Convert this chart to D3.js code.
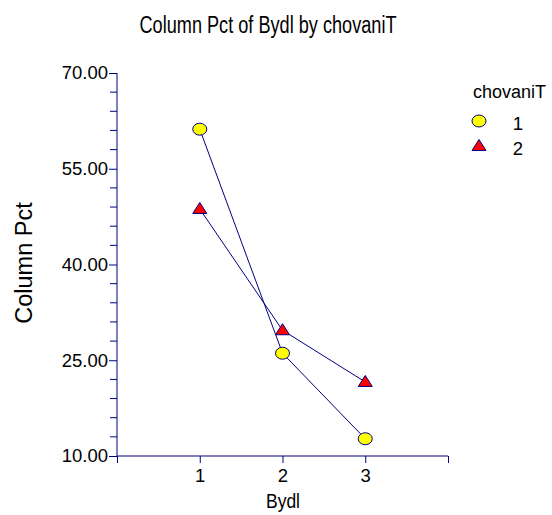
<!DOCTYPE html>
<html><head><meta charset="utf-8">
<script src="https://cdn.jsdelivr.net/npm/d3@7"></script>
<style>body{margin:0;background:#fff}svg{display:block}text{font-family:"Liberation Sans",Arial,sans-serif;fill:#000}</style>
</head><body><svg id="c" width="552" height="515"></svg>
<script>
const categories = [1, 2, 3];
const series1 = [61.2, 26.1, 12.7];
const series2 = [48.7, 29.7, 21.6];
const seriesNames = ["1", "2"];
const yTicks = [10, 25, 40, 55, 70];
const title = "Column Pct of Bydl by chovaniT";
const xTitle = "Bydl", yTitle = "Column Pct", legendTitle = "chovaniT";

const svg = d3.select("#c");
const navy = "#000080";
const x = d3.scaleLinear().domain([0, 4]).range([117, 448]);
const y = d3.scaleLinear().domain([10, 70]).range([456, 73]);

// title
svg.append("text").attr("x", 268).attr("y", 33).attr("text-anchor", "middle")
  .attr("font-size", 23).attr("textLength", 257).attr("lengthAdjust", "spacingAndGlyphs").text(title);

// y axis
const ya = svg.append("g").attr("transform", "translate(117,0)")
  .call(d3.axisLeft(y).tickValues(yTicks).tickFormat(d3.format(".2f")).tickSize(8).tickPadding(1));
const minor = d3.range(10, 70.001, 3).filter(v => !yTicks.includes(v));
ya.selectAll(".minor").data(minor).enter().append("line").attr("class", "minor")
  .attr("x1", -7).attr("x2", 0).attr("y1", d => y(d)).attr("y2", d => y(d)).attr("stroke", navy);
ya.select(".domain").attr("stroke", navy).attr("d", `M0,${y(70)}V${y(10)}`);
ya.selectAll(".tick line").attr("stroke", navy);
ya.selectAll(".tick text").attr("font-size", 18.5).attr("font-family", "Liberation Sans, Arial, sans-serif").attr("fill", "#000");

// x axis
const xa = svg.append("g").attr("transform", "translate(0,456)")
  .call(d3.axisBottom(x).tickValues([0, 1, 2, 3, 4]).tickFormat(d => categories.includes(d) ? d : "").tickSize(7).tickPadding(6));
xa.select(".domain").attr("stroke", navy).attr("d", `M${x(0)},0H${x(4)}`);
xa.selectAll(".tick line").attr("stroke", navy);
xa.selectAll(".tick text").attr("font-size", 18.5).attr("font-family", "Liberation Sans, Arial, sans-serif").attr("fill", "#000");

// axis titles
svg.append("text").attr("x", 283).attr("y", 508).attr("text-anchor", "middle").attr("font-size", 21)
  .attr("textLength", 34).attr("lengthAdjust", "spacingAndGlyphs").text(xTitle);
svg.append("text").attr("transform", "translate(32,263) rotate(-90)").attr("text-anchor", "middle")
  .attr("font-size", 23.5).text(yTitle);

// lines
const line = d3.line().x((d, i) => x(categories[i])).y(d => y(d));
[series1, series2].forEach(s => {
  svg.append("path").attr("d", line(s)).attr("fill", "none").attr("stroke", navy).attr("stroke-width", 1);
});

function circle(g, cx, cy) {
  g.append("ellipse").attr("cx", cx).attr("cy", cy).attr("rx", 7).attr("ry", 6)
    .attr("fill", "#ffff00").attr("stroke", navy).attr("stroke-width", 1);
}
function tri(g, cx, cy) {
  g.append("path").attr("d", `M${cx},${cy - 6.5}L${cx + 7},${cy + 4.5}L${cx - 7},${cy + 4.5}Z`)
    .attr("fill", "#ff0000").attr("stroke", navy).attr("stroke-width", 1);
}
const marks = svg.append("g");
series1.forEach((v, i) => circle(marks, x(categories[i]), y(v)));
series2.forEach((v, i) => tri(marks, x(categories[i]), y(v)));

// legend
svg.append("text").attr("x", 473).attr("y", 98).attr("font-size", 18).text(legendTitle);
circle(svg, 479, 121);
tri(svg, 479, 146);
svg.append("text").attr("x", 518).attr("y", 130).attr("text-anchor", "middle").attr("font-size", 18.5).text(seriesNames[0]);
svg.append("text").attr("x", 518).attr("y", 155).attr("text-anchor", "middle").attr("font-size", 18.5).text(seriesNames[1]);
</script></body></html>
